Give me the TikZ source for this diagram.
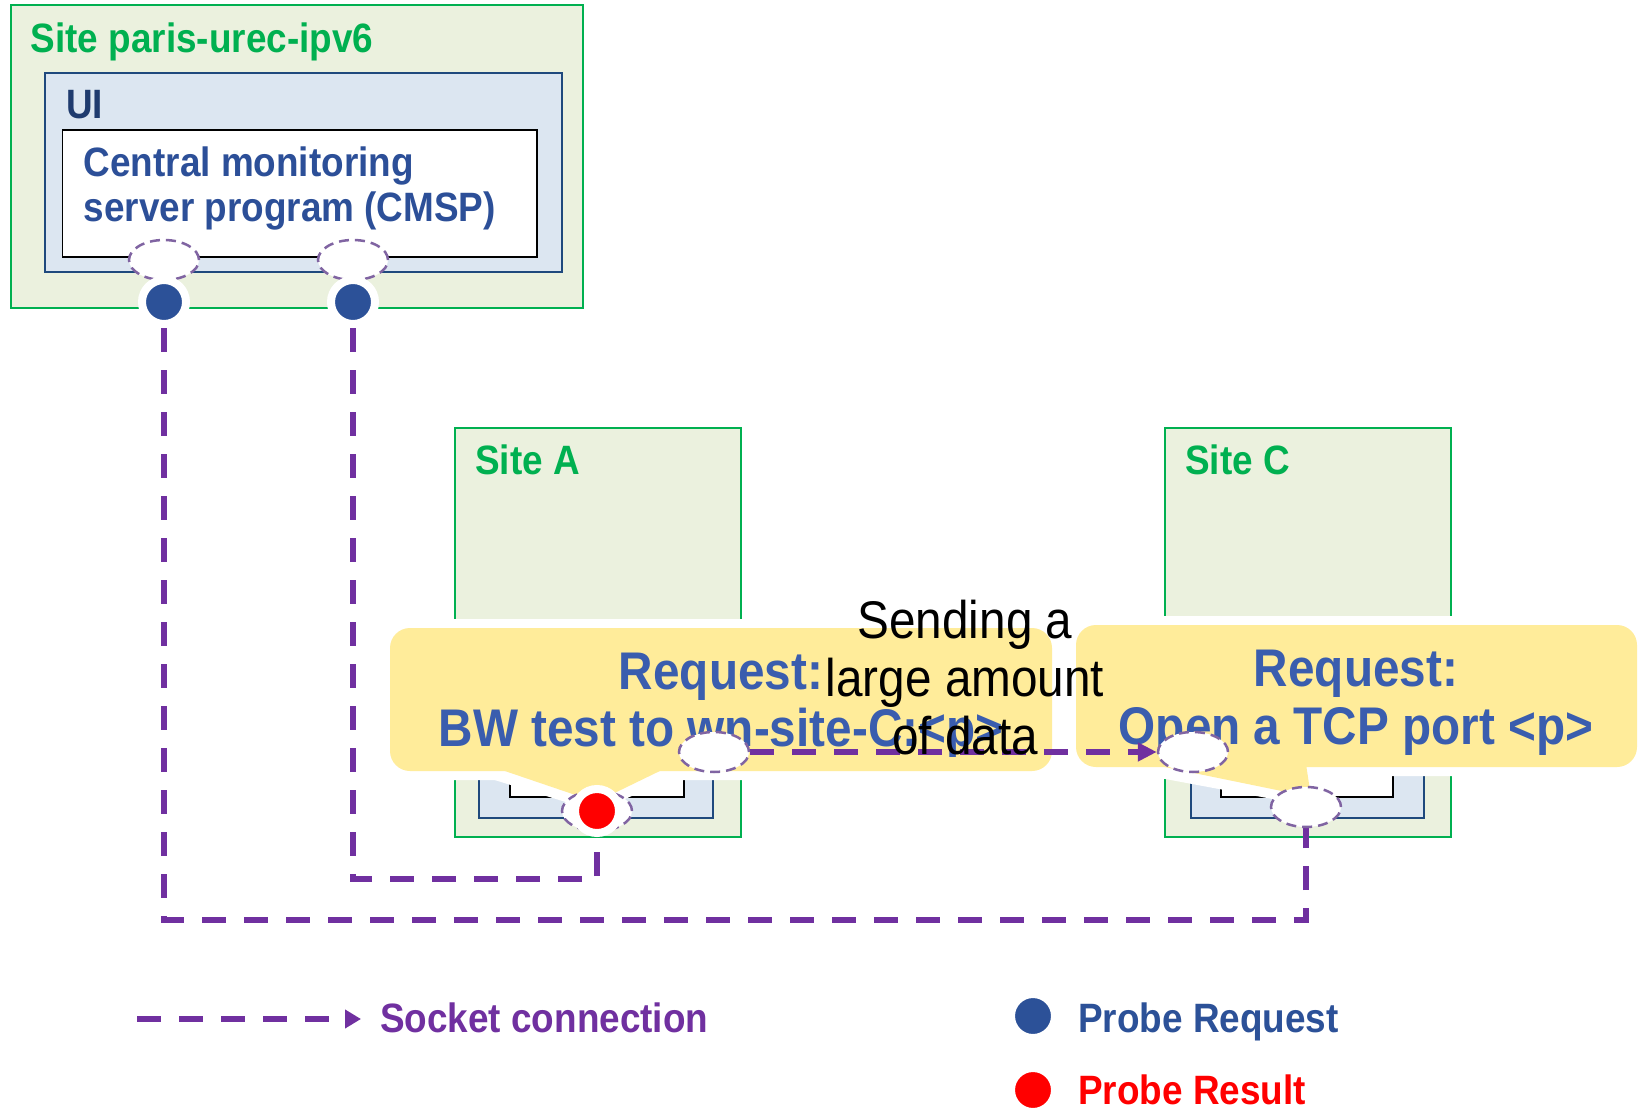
\documentclass[tikz,border=0pt]{standalone}
\usepackage{fontspec}
\setmainfont{Liberation Sans}[FakeStretch=0.9]
\usetikzlibrary{arrows.meta,shapes.geometric}

\definecolor{sitegreen}{HTML}{00B050}
\definecolor{sitefill}{HTML}{EBF1DE}
\definecolor{uifill}{HTML}{DCE6F1}
\definecolor{uiborder}{HTML}{1F497D}
\definecolor{uitext}{HTML}{1F3B6E}
\definecolor{progtext}{HTML}{2C4F98}
\definecolor{calloutfill}{HTML}{FFEC9A}
\definecolor{callouttext}{HTML}{3A5DAE}
\definecolor{socketpurple}{HTML}{7030A0}
\definecolor{socketend}{HTML}{8064A2}
\definecolor{probeblue}{HTML}{2C5198}
\definecolor{proberesult}{HTML}{FF0000}

\newcommand\fsz[1]{\fontsize{#1}{#1}\selectfont}

% boxes and bubbles at the bottom, socket lines above them, end points on top
\pgfdeclarelayer{boxes}
\pgfdeclarelayer{links}
\pgfsetlayers{boxes,links,main}

\begin{document}
\begin{tikzpicture}[x=1pt, y=-1pt,
  site/.style={draw=sitegreen, fill=sitefill, line width=2pt},
  uibox/.style={draw=uiborder, fill=uifill, line width=1.8pt},
  progbox/.style={draw=black, fill=white, line width=1.8pt},
  sitelabel/.style={anchor=base west, inner sep=0pt, text=sitegreen, font=\fsz{41}\bfseries},
  halo/.style={draw=white, line width=18pt, line join=round},
  bubble/.style={fill=calloutfill},
  bubbletext/.style={anchor=base, inner sep=0pt, text=callouttext, font=\fsz{53}\bfseries},
  socket/.style={draw=socketpurple, line width=6pt, dash pattern=on 24pt off 18pt},
  endpoint/.style={ellipse, draw=socketend, fill=white, line width=2.5pt,
    dash pattern=on 10pt off 6pt, minimum width=70pt, minimum height=40pt, inner sep=0pt},
  probe/.style={circle, fill=#1, draw=white, line width=8pt, minimum size=44pt, inner sep=0pt},
  legendtext/.style={anchor=base west, inner sep=0pt, font=\fsz{41}\bfseries},
  note/.style={anchor=base, inner sep=0pt, font=\fsz{53}}
]
\useasboundingbox (0,0) rectangle (1639,1110);

\begin{pgfonlayer}{boxes}
\fill[white] (0,0) rectangle (1639,1110);

% ---- Site paris-urec-ipv6 with the UI and the CMSP ----
\path[site] (10.7,5) rectangle (583,308);
\node[sitelabel] (parisTitle) at (30.6,53) {Site paris-urec-ipv6};
\path[uibox] (45,73) rectangle (562,272);
\node[anchor=base west, inner sep=0pt, text=uitext, font=\fsz{41}\bfseries] (uiTitle) at (66,119) {UI};
\path[progbox] (62.5,130) rectangle (537,257);
\node[anchor=base west, inner sep=0pt, text=progtext, font=\fsz{41}\bfseries] (cmspA) at (83.5,177) {Central monitoring};
\node[anchor=base west, inner sep=0pt, text=progtext, font=\fsz{41}\bfseries] (cmspB) at (83.5,222) {server program (CMSP)};

% ---- Site A ----
\path[site] (455,428) rectangle (741,837);
\node[sitelabel] (siteAtitle) at (475,474) {Site A};
\path[uibox] (479,740) rectangle (713,818);
\path[progbox] (510,730) rectangle (684,797);

% ---- Site C ----
\path[site] (1165,428) rectangle (1451,837);
\node[sitelabel] (siteCtitle) at (1185,474) {Site C};
\path[uibox] (1191,740) rectangle (1424,818);
\path[progbox] (1221,730) rectangle (1393,797);

% ---- request bubbles ----
\path[halo] (496,771) -- (596,802) -- (666,771) -- cycle;
\path[halo] (1150,767) -- (1311,797) -- (1306,767) -- cycle;
\path[halo, rounded corners=20pt] (390,628) rectangle (1052,771);
\path[halo, rounded corners=20pt] (1076,625) rectangle (1637,767);
\fill[bubble, rounded corners=20pt] (390,628) rectangle (1052,771);
\fill[bubble, rounded corners=20pt] (1076,625) rectangle (1637,767);
\fill[bubble] (496,768) -- (596,802) -- (666,768) -- cycle;
\fill[bubble] (1150,764) -- (1311,797) -- (1306,764) -- cycle;

\node[bubbletext] (reqAa) at (721,689) {Request:};
\node[bubbletext] (reqAb) at (721,746) {BW test to wn-site-C:<p>};
\node[bubbletext] (reqCa) at (1356,686) {Request:};
\node[bubbletext] (reqCb) at (1356,744) {Open a TCP port <p>};
\end{pgfonlayer}

% ---- socket end points ----
\node[endpoint] (cmspEndL) at (164,260) {};
\node[endpoint] (cmspEndR) at (353,260) {};
\node[endpoint] (siteAend) at (597,811) {};
\node[endpoint] (siteCend) at (1306,807) {};
\node[endpoint] (bwSend) at (714,752) {};
\node[endpoint] (tcpPort) at (1193,752) {};

% ---- probes ----
\node[probe=probeblue] (probeL) at (164,302) {};
\node[probe=probeblue] (probeR) at (353,302) {};
\node[probe=proberesult] (resultA) at (597,811) {};

% ---- socket connections ----
\coordinate (routeL1) at (164,920);
\coordinate (routeL2) at (1306,920);
\coordinate (routeR1) at (353,879);
\coordinate (routeR2) at (597,879);
\begin{pgfonlayer}{links}
\draw[socket] (probeL) -- (routeL1) -- (routeL2) -- (siteCend);
\draw[socket] (probeR) -- (routeR1) -- (routeR2) -- (resultA);
\draw[socket, -{Triangle[length=19pt,width=18pt]}] (bwSend) -- (tcpPort);
\end{pgfonlayer}

% ---- data transfer note ----
\node[note] (sendA) at (965,638) {Sending a};
\node[note] (sendB) at (965,696) {large amount};
\node[note] (sendC) at (965,754) {of data};

% ---- legend ----
\coordinate (legStart) at (137,1019);
\coordinate (legEnd) at (361,1019);
\draw[socket, -{Triangle[length=16pt,width=18pt]}] (legStart) -- (legEnd);
\node[legendtext, text=socketpurple] (legSocket) at (380,1032) {Socket connection};
\node[probe=probeblue] (legReqDot) at (1033,1016) {};
\node[legendtext, text=probeblue] (legReq) at (1078,1032) {Probe Request};
\node[probe=proberesult] (legResDot) at (1033,1090) {};
\node[legendtext, text=proberesult] (legRes) at (1078,1104) {Probe Result};
\end{tikzpicture}
\end{document}
